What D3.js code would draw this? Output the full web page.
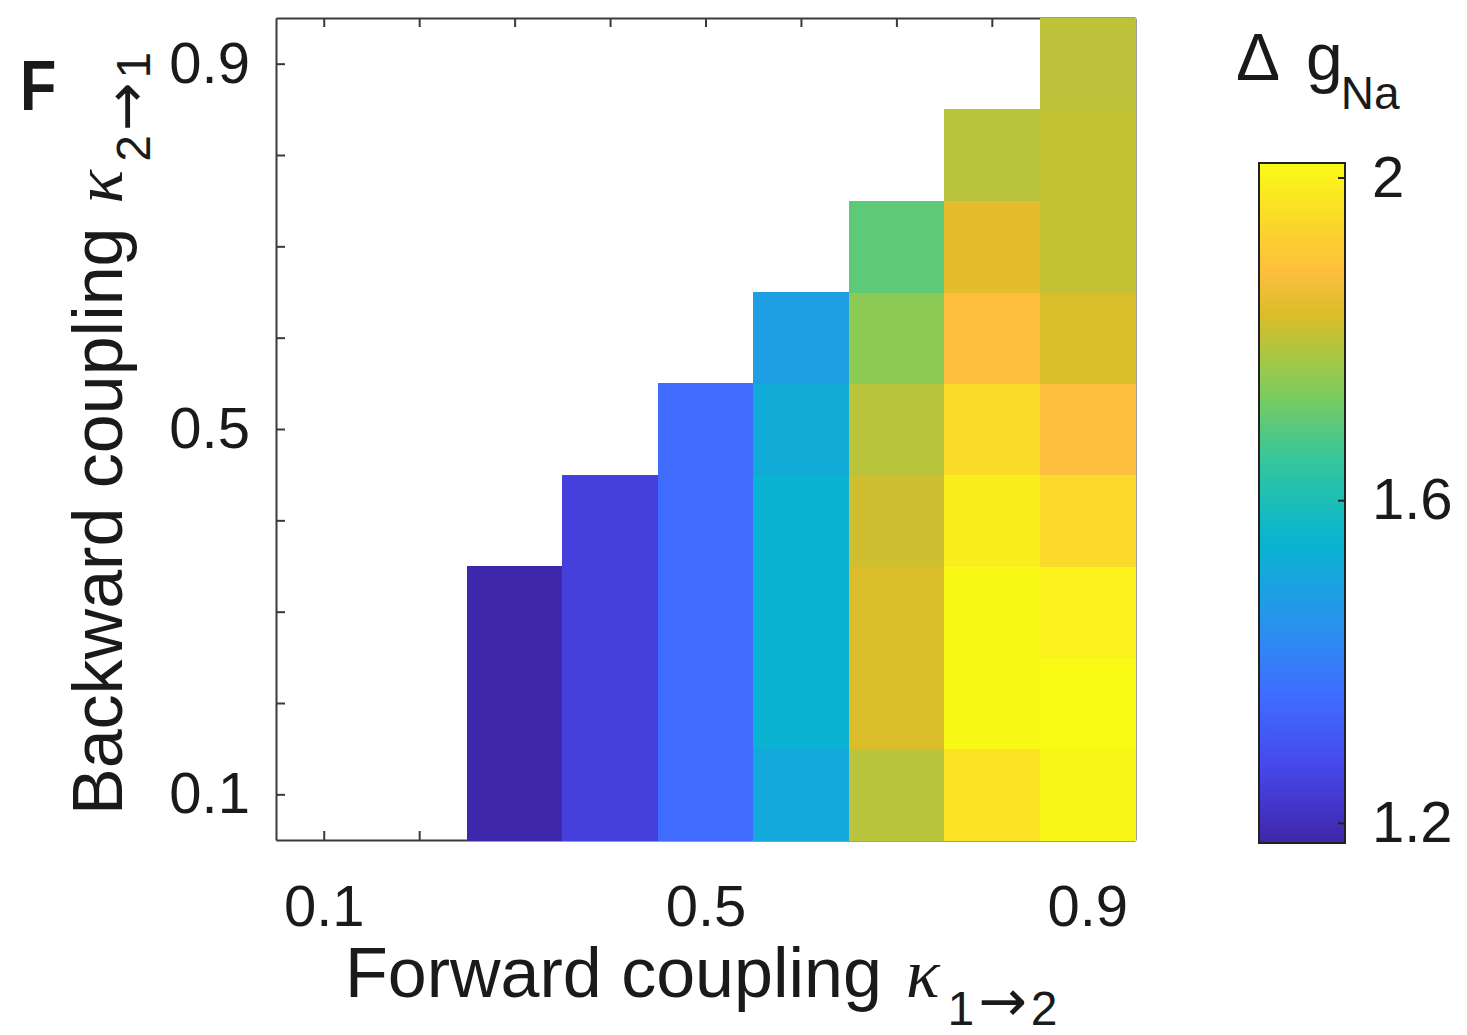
<!DOCTYPE html>
<html>
<head>
<meta charset="utf-8">
<script src="https://cdn.jsdelivr.net/npm/d3@7/dist/d3.min.js"></script>
<style>
  html, body { margin: 0; padding: 0; background: #fff; }
  svg { display: block; }
  text { font-family: "Liberation Sans", Arial, Helvetica, sans-serif; fill: #1a1a1a; }
</style>
</head>
<body>
<svg id="chart" width="1467" height="1035"></svg>
<script>
// ---- data ----
const xValues = [0.1, 0.2, 0.3, 0.4, 0.5, 0.6, 0.7, 0.8, 0.9];   // forward coupling
const yValues = [0.1, 0.2, 0.3, 0.4, 0.5, 0.6, 0.7, 0.8, 0.9];   // backward coupling
// Delta gNa, one row per backward coupling value (y = 0.1 first), columns follow xValues
const row01 = [null, null, 1.179, 1.247, 1.355, 1.516, 1.795, 1.965, 2.005];
const row02 = [null, null, 1.179, 1.247, 1.355, 1.546, 1.830, 2.014, 2.018];
const row03 = [null, null, 1.179, 1.247, 1.355, 1.546, 1.830, 2.014, 1.999];
const row04 = [null, null, null, 1.247, 1.355, 1.546, 1.817, 1.990, 1.945];
const row05 = [null, null, null, null, 1.355, 1.525, 1.795, 1.950, 1.883];
const row06 = [null, null, null, null, null, 1.484, 1.749, 1.883, 1.830];
const row07 = [null, null, null, null, null, null, 1.696, 1.842, 1.807];
const row08 = [null, null, null, null, null, null, null, 1.795, 1.807];
const row09 = [null, null, null, null, null, null, null, null, 1.798];
const gNaRows = [row01, row02, row03, row04, row05, row06, row07, row08, row09];
const axisTicks = [0.1, 0.2, 0.3, 0.4, 0.5, 0.6, 0.7, 0.8, 0.9];
const axisTickLabels = [0.1, 0.5, 0.9];
const colorbarTicks = [1.2, 1.6, 2];
const colorLimits = [1.175, 2.018];

// parula-like colormap
const parulaStops = [0, 0.111, 0.222, 0.333, 0.444, 0.556, 0.667, 0.778, 0.84, 0.889, 1];
const parulaColors = ["#3e26a8", "#4747eb", "#3e6fff", "#2796eb", "#08b4d0", "#31c69f",
                      "#81cc59", "#dcbd29", "#fdbe3d", "#fccf30", "#f9fb15"];
const parula = d3.scaleLinear().domain(parulaStops).range(parulaColors)
  .interpolate(d3.interpolateRgb).clamp(true);
const colorOf = v => parula((v - colorLimits[0]) / (colorLimits[1] - colorLimits[0]));

const cells = [];
gNaRows.forEach((row, i) => row.forEach((v, j) => {
  if (v !== null) cells.push({ x: xValues[j], y: yValues[i], v });
}));

// ---- layout ----
const svg = d3.select("#chart");
const L = 276, R = 1135, T = 18, B = 840;
const axisColor = "#3a3a3a";
const sans = '"Liberation Sans", Arial, Helvetica, sans-serif';
const serif = '"Liberation Serif", "DejaVu Serif", serif';

const xBand = d3.scaleBand().domain(xValues).range([L, R]);
const yBand = d3.scaleBand().domain(yValues).range([B, T]);
const xLin = d3.scaleLinear().domain([0.05, 0.95]).range([L, R]);
const yLin = d3.scaleLinear().domain([0.05, 0.95]).range([B, T]);

const fmt = d => axisTickLabels.some(t => Math.abs(t - d) < 1e-9) ? String(d) : "";
const styleAxis = g => {
  g.select(".domain").attr("stroke", axisColor).attr("stroke-width", 2).attr("fill", "none");
  g.selectAll(".tick line").attr("stroke", axisColor).attr("stroke-width", 2);
  g.selectAll(".tick text").attr("fill", "#1a1a1a")
    .style("font-family", sans).style("font-size", "58px");
};

// axes drawn under the cells
svg.append("g").attr("transform", `translate(0,${B})`)
  .call(d3.axisBottom(xLin).tickValues(axisTicks).tickFormat(fmt).tickSize(-9).tickSizeOuter(0).tickPadding(45))
  .call(styleAxis);
svg.append("g").attr("transform", `translate(0,${T})`)
  .call(d3.axisTop(xLin).tickValues(axisTicks).tickFormat("").tickSize(-9).tickSizeOuter(0))
  .call(styleAxis);
svg.append("g").attr("transform", `translate(${L},0)`)
  .call(d3.axisLeft(yLin).tickValues(axisTicks).tickFormat(fmt).tickSize(-9).tickSizeOuter(0).tickPadding(26))
  .call(styleAxis);
svg.append("g").attr("transform", `translate(${R},0)`)
  .call(d3.axisRight(yLin).tickValues(axisTicks).tickFormat("").tickSize(-9).tickSizeOuter(0))
  .call(styleAxis);

// cells
svg.append("g").selectAll("rect").data(cells).join("rect")
  .attr("x", d => xBand(d.x))
  .attr("y", d => yBand(d.y))
  .attr("width", xBand.bandwidth() + 0.5)
  .attr("height", yBand.bandwidth() + 0.5)
  .attr("fill", d => colorOf(d.v))
  .attr("shape-rendering", "crispEdges");

// axis labels with kappa and subscript
function coupledLabel(sel, main, a, b) {
  sel.append("tspan").text(main);
  sel.append("tspan").text("κ").attr("dx", 24).style("font-family", serif).style("font-style", "italic");
  sel.append("tspan").text(a).attr("dx", 8).attr("dy", 28).style("font-size", "48px");
  sel.append("tspan").text("→").attr("dx", 4).attr("dy", -4).style("font-family", '"DejaVu Sans", sans-serif').style("font-size", "58px");
  sel.append("tspan").text(b).attr("dx", 4).attr("dy", 4).style("font-size", "48px");
}
const xl = svg.append("text").attr("x", 345).attr("y", 997).style("font-size", "70px");
coupledLabel(xl, "Forward coupling", "1", "2");

const yl = svg.append("text").attr("transform", "translate(122,815) rotate(-90)").style("font-size", "70px");
coupledLabel(yl, "Backward coupling", "2", "1");

// panel letter
svg.append("text").attr("transform", "translate(20,110) scale(0.85,1)").text("F")
  .style("font-size", "70px").style("font-weight", "bold");

// colorbar
const cbL = 1259, cbR = 1345, cbT = 163, cbB = 843;
const cScale = d3.scaleLinear().domain(colorLimits).range([cbB, cbT]);
const defs = svg.append("defs");
const grad = defs.append("linearGradient").attr("id", "cbgrad")
  .attr("x1", 0).attr("y1", 1).attr("x2", 0).attr("y2", 0);
grad.selectAll("stop").data(d3.range(0, 1.0001, 0.02)).join("stop")
  .attr("offset", d => d).attr("stop-color", d => parula(d));
svg.append("rect").attr("x", cbL).attr("y", cbT).attr("width", cbR - cbL).attr("height", cbB - cbT)
  .attr("fill", "url(#cbgrad)").attr("stroke", "#222").attr("stroke-width", 2);
const cbAxis = svg.append("g").attr("transform", `translate(${cbR},0)`)
  .call(d3.axisRight(cScale).tickValues(colorbarTicks).tickFormat(d3.format("~g")).tickSize(-7).tickSizeOuter(0).tickPadding(27));
cbAxis.select(".domain").remove();
cbAxis.selectAll(".tick line").attr("stroke", "#222").attr("stroke-width", 2);
cbAxis.selectAll(".tick text").attr("fill", "#1a1a1a")
  .style("font-family", sans).style("font-size", "58px");

// colorbar title
const ct = svg.append("text").attr("x", 1236).attr("y", 80).style("font-size", "66px");
ct.append("tspan").text("Δ");
ct.append("tspan").text("g").attr("dx", 26);
ct.append("tspan").text("Na").attr("dx", -2).attr("dy", 29).style("font-size", "46px");
</script>
</body>
</html>
